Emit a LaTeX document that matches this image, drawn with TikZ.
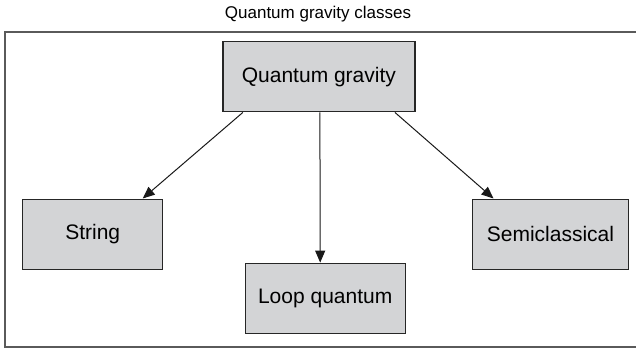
\documentclass[tikz,border=0pt]{standalone}
\usepackage{fontspec}
\setmainfont{Liberation Sans}
\usetikzlibrary{arrows.meta, calc}
\definecolor{boxgray}{RGB}{211,212,214}
\definecolor{framegray}{RGB}{90,90,90}
\tikzset{
	classbox/.style={draw=black!85, line width=1.4pt, fill=boxgray, minimum height=70pt, inner sep=0pt, font=\fontsize{21}{25}\selectfont},
	arr/.style={-{Triangle[length=12pt, width=10pt]}, line width=1pt, black!90}
}
\begin{document}
\begin{tikzpicture}[x=1pt, y=-1pt]
		\useasboundingbox (0,0) rectangle (636,348);
		% outer frame and title
		\draw[line width=2pt, color=framegray] (4.5,31.7) rectangle (645,347);
		\node[font=\fontsize{17}{21}\selectfont] (title) at (318,14) {Quantum gravity classes};
		% classes
		\node[classbox, minimum width=192pt] (qg) at (318.9,76.7) {Quantum gravity};
		\node[classbox, minimum width=140pt] (string) at (92.7,234.2) {String};
		\node[classbox, minimum width=160pt] (loop) at (325.2,298.3) {Loop quantum};
		\node[classbox, minimum width=155.6pt] (semi) at (550.5,234.2) {Semiclassical};
		% connectors
		\draw[arr] ($(qg.south)+(-76,0)$) -- ($(string.north)+(50,0)$);
		\draw[arr] ($(qg.south)+(1,0)$) -- ($(loop.north)+(-5,0)$);
		\draw[arr] ($(qg.south)+(76,0)$) -- ($(semi.north)+(-57,0)$);
	\end{tikzpicture}
\end{document}
